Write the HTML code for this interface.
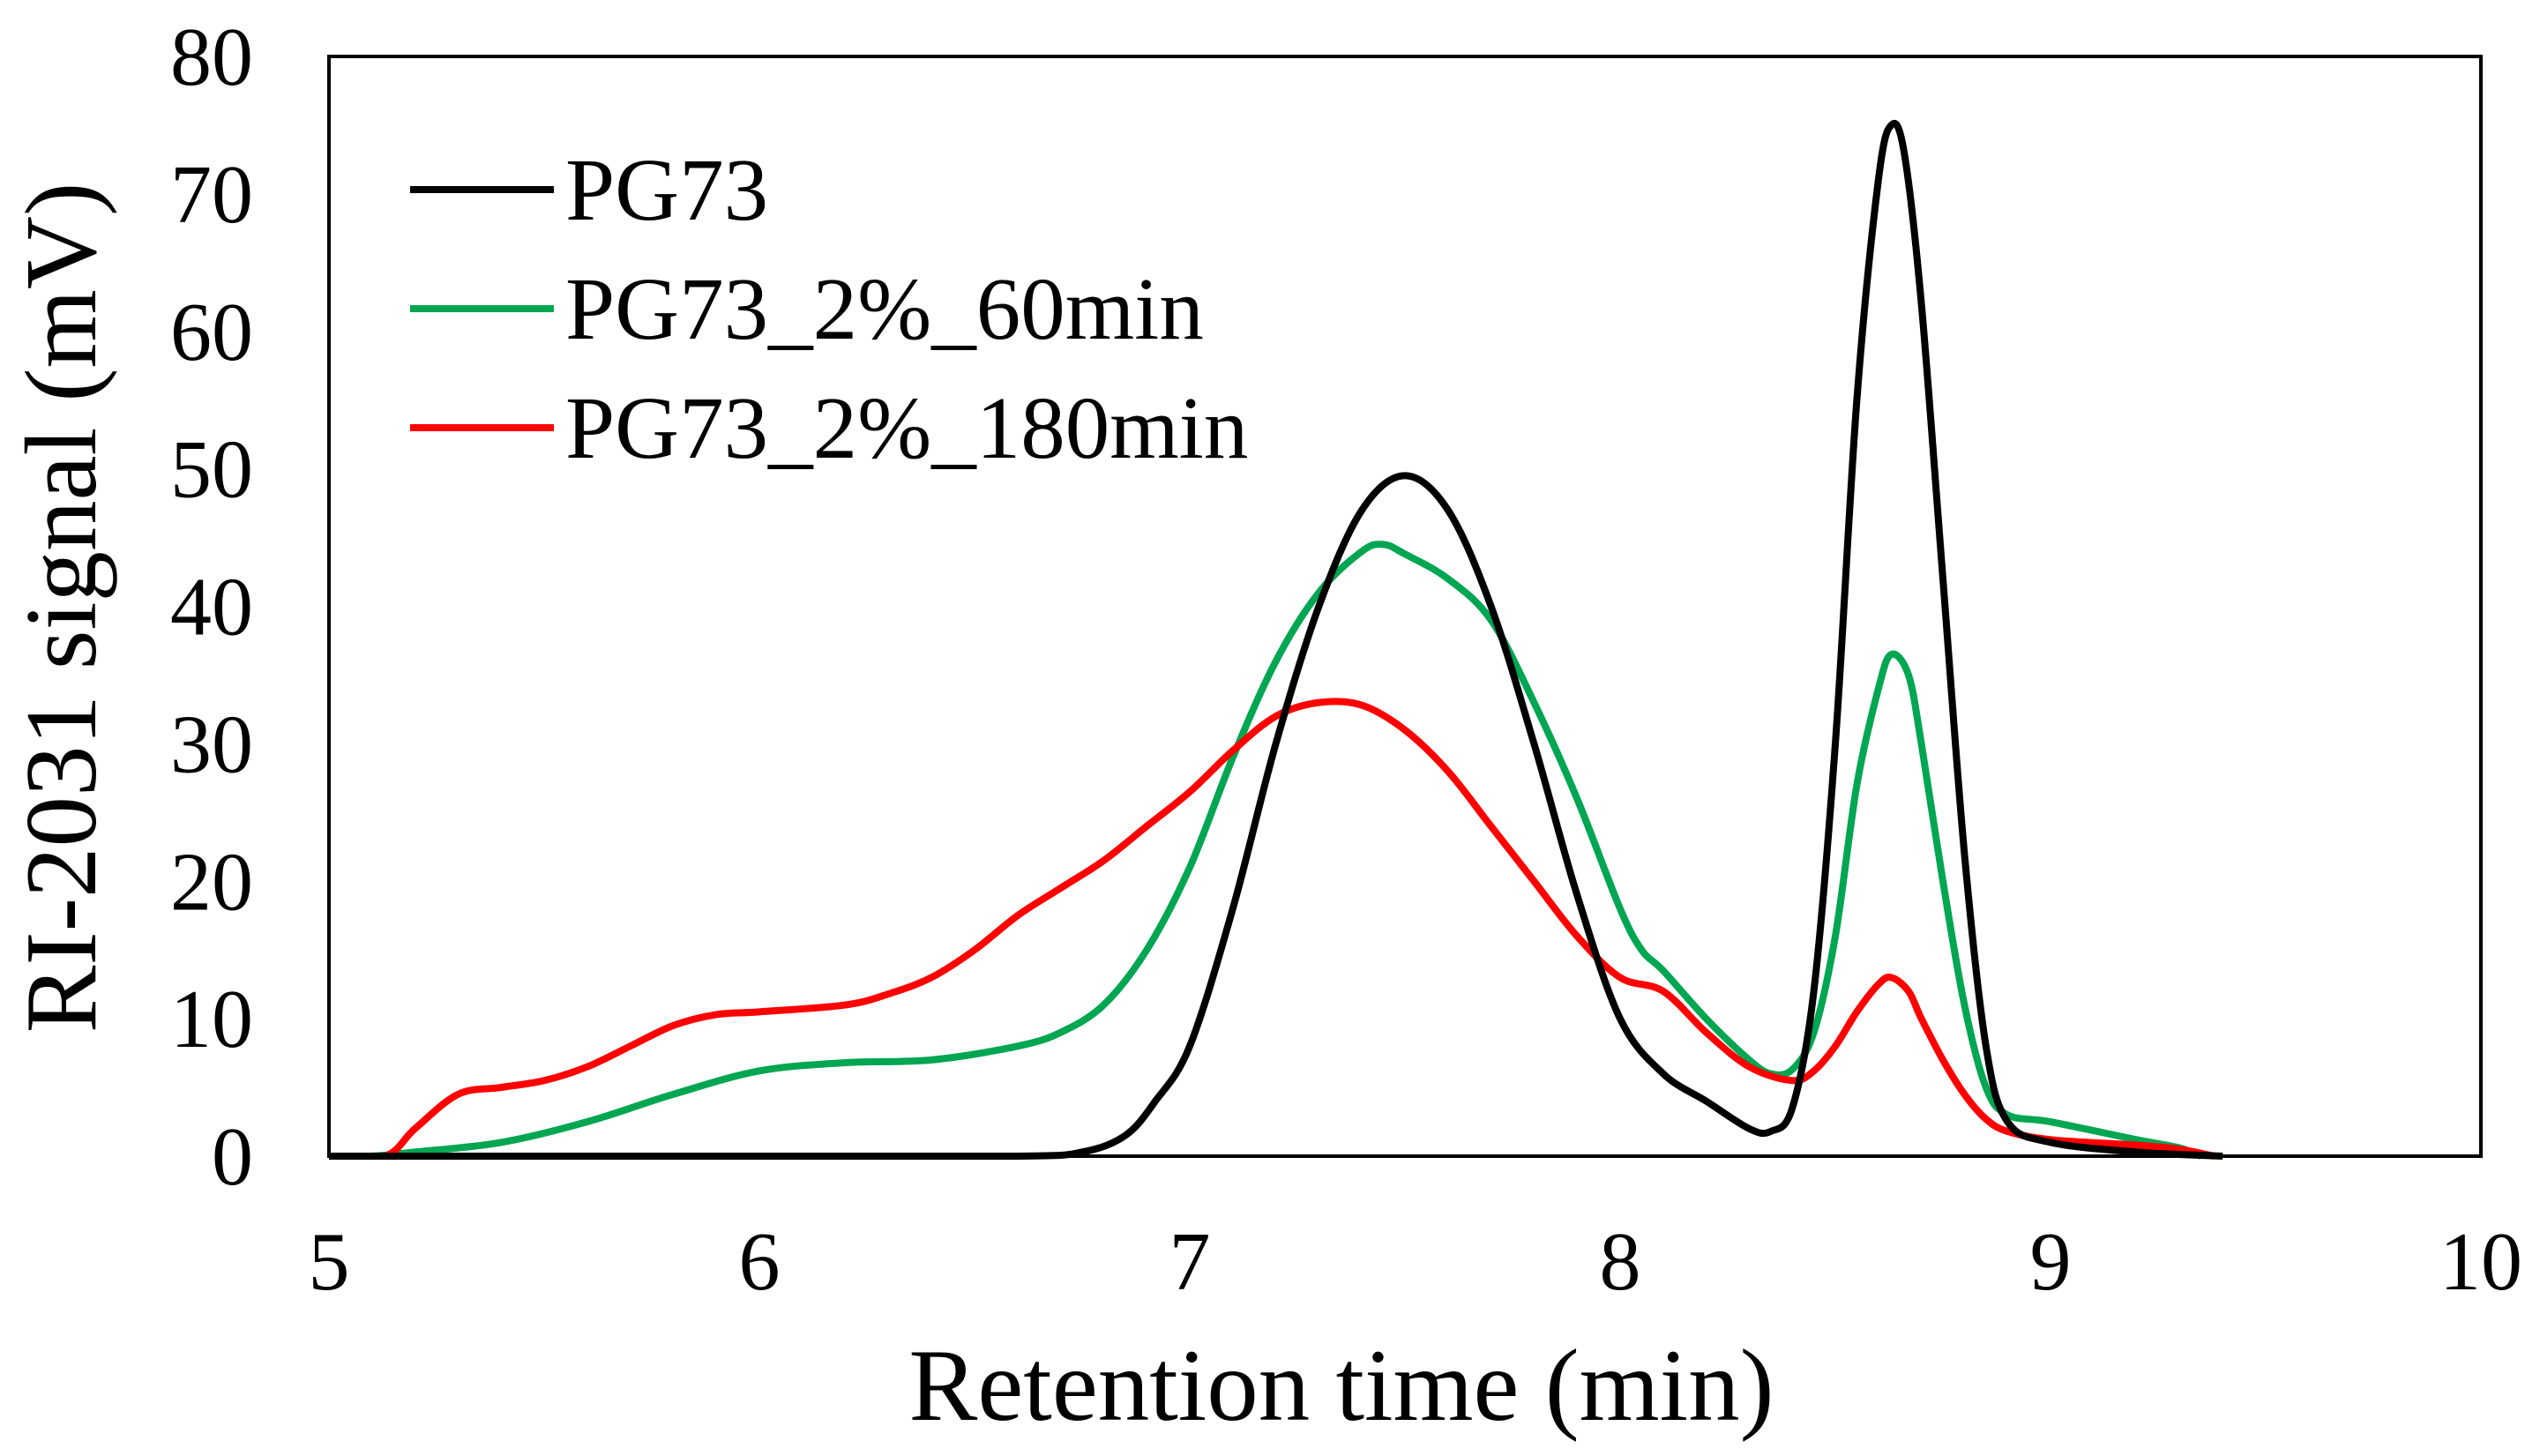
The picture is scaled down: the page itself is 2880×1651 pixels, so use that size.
<!DOCTYPE html>
<html><head><meta charset="utf-8"><style>
html,body{margin:0;padding:0;background:#fff;}
svg{display:block;font-family:"Liberation Serif",serif;}
</style></head><body>
<svg id="chart" width="2880" height="1651" viewBox="0 0 2880 1651">
<rect x="373" y="64" width="2440" height="1247" fill="none" stroke="#000" stroke-width="4"/>
<g id="xt"></g>
<g id="yt"></g>
<g id="series"></g>
<text x="1521" y="1610" font-size="117" text-anchor="middle">Retention time (min)</text>
<text transform="translate(108,689) rotate(-90)" font-size="115" text-anchor="middle">RI-2031 signal (mV)</text>
<g id="legend"></g>
</svg>
<script>
const xTicks=[5,6,7,8,9,10];
const yTicks=[0,10,20,30,40,50,60,70,80];
const seriesNames=["PG73","PG73_2%_60min","PG73_2%_180min"];
const seriesColors=["#000000","#00a651","#ff0000"];
const blackX=[5.0,6.0,6.6,6.75,6.85,6.92,7.0,7.1,7.2,7.3,7.4,7.5,7.6,7.7,7.8,7.9,8.0,8.1,8.2,8.3,8.35,8.4,8.45,8.5,8.55,8.6,8.63,8.66,8.7,8.75,8.8,8.85,8.9,9.0,9.2,9.4];
const blackY=[0,0,0,0.3,1.5,4,8,18,30,40,47,49.5,47,40,30,19,10,6,4,2,1.8,3.5,12,30,55,71,75,73,62,42,22,8,2.5,1,0.3,0];
const greenX=[5.0,5.1,5.2,5.4,5.6,5.8,6.0,6.2,6.4,6.6,6.7,6.8,6.9,7.0,7.1,7.2,7.3,7.4,7.45,7.5,7.6,7.7,7.8,7.9,8.0,8.05,8.1,8.2,8.3,8.35,8.4,8.45,8.5,8.55,8.6,8.63,8.67,8.7,8.75,8.8,8.85,8.9,9.0,9.2,9.3,9.35];
const greenY=[0,0,0.3,1,2.5,4.5,6.2,6.8,7,8,9,11,15,21,29,36,41,44,44.5,43.8,42,39,33,26,18,15,13.5,10,7,6,6.3,9,16,27,34,36.5,35,30,20,11,5,3,2.5,1.2,0.6,0];
const redX=[5.0,5.13,5.2,5.3,5.4,5.5,5.6,5.7,5.8,5.9,6.0,6.2,6.3,6.4,6.5,6.6,6.7,6.8,6.9,7.0,7.1,7.2,7.3,7.4,7.5,7.6,7.7,7.8,7.9,8.0,8.1,8.2,8.3,8.4,8.45,8.5,8.55,8.6,8.63,8.67,8.7,8.75,8.8,8.85,8.9,9.0,9.2,9.3,9.38];
const redY=[0,0,2,4.5,5,5.5,6.5,8,9.5,10.3,10.5,11,11.8,13,15,17.5,19.5,21.5,24,26.5,29.5,32,33,32.8,31,28,24,20,16,13,12,9,6.5,5.5,6.2,8,10.5,12.5,13,12,10,7,4.5,2.7,1.8,1.2,0.8,0.5,0];
const NS="http://www.w3.org/2000/svg";
const L=373,R=2813,T=64,B=1311;
const sx=v=>L+(v-5)/5*(R-L);
const sy=v=>B-v/80*(B-T);
const xt=document.getElementById('xt'),yt=document.getElementById('yt');
xTicks.forEach(v=>{const t=document.createElementNS(NS,'text');t.setAttribute('x',sx(v));t.setAttribute('y',1462);t.setAttribute('font-size','94');t.setAttribute('text-anchor','middle');t.textContent=v;


xt.appendChild(t);});
yTicks.forEach(v=>{const t=document.createElementNS(NS,'text');t.setAttribute('x',287);t.setAttribute('y',sy(v)+32);t.setAttribute('font-size','94');t.setAttribute('text-anchor','end');t.textContent=v;


yt.appendChild(t);});
function path(xs,ys){const p=xs.map((x,i)=>[sx(x),sy(ys[i])]);let d='M'+p[0][0]+','+p[0][1];
for(let i=0;i<p.length-1;i++){const p0=p[Math.max(0,i-1)],p1=p[i],p2=p[i+1],p3=p[Math.min(p.length-1,i+2)];
const c1=[p1[0]+(p2[0]-p0[0])/6,p1[1]+(p2[1]-p0[1])/6],c2=[p2[0]-(p3[0]-p1[0])/6,p2[1]-(p3[1]-p1[1])/6];
c1[1]=Math.min(c1[1],B);c2[1]=Math.min(c2[1],B);
d+=' C'+c1.join(',')+' '+c2.join(',')+' '+p2.join(',');}return d;}
const sg=document.getElementById('series');
const data=[[blackX,blackY],[greenX,greenY],[redX,redY]];
const lineNames=['line-pg73','line-pg73-60min','line-pg73-180min'];
[1,2,0].forEach(i=>{const e=document.createElementNS(NS,'path');e.setAttribute('d',path(data[i][0],data[i][1]));e.setAttribute('fill','none');e.setAttribute('stroke',seriesColors[i]);e.setAttribute('stroke-width','8');e.setAttribute('stroke-linejoin','round');


sg.appendChild(e);});
const lg=document.getElementById('legend');
seriesNames.forEach((n,i)=>{const y=215+i*135;const g=document.createElementNS(NS,'g');


const l=document.createElementNS(NS,'line');l.setAttribute('x1',465);l.setAttribute('x2',628);l.setAttribute('y1',y);l.setAttribute('y2',y);l.setAttribute('stroke',seriesColors[i]);l.setAttribute('stroke-width','8');
const t=document.createElementNS(NS,'text');t.setAttribute('x',641);t.setAttribute('y',y+34);t.setAttribute('font-size','101');t.textContent=n;
g.appendChild(l);g.appendChild(t);lg.appendChild(g);});
</script>
</body></html>
